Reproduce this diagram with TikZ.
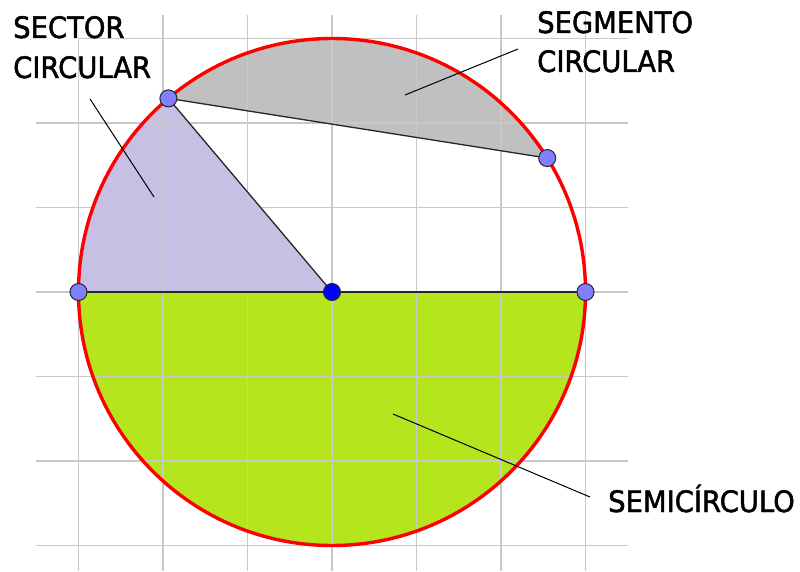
\documentclass[tikz,border=0pt]{standalone}
\usepackage{fontspec}
\newfontfamily\labfont[FakeStretch=0.93,FakeBold=1.6]{DejaVu Sans}
\definecolor{gridc}{RGB}{200,200,200}
\definecolor{sectc}{RGB}{199,191,228}
\definecolor{segc}{RGB}{192,192,192}
\definecolor{semic}{RGB}{181,230,29}
\definecolor{ptc}{RGB}{127,127,255}
\definecolor{ptline}{RGB}{40,40,40}
\tikzset{
  gridline/.style={draw=gridc, line width=1.5pt},
  rim/.style={draw=red, line width=3.4pt},
  edge/.style={draw=black!85, line width=1.3pt},
  leader/.style={draw=black, line width=1pt},
  anchorpt/.style={circle, minimum size=17pt, inner sep=0pt},
  pt/.style={circle, fill=ptc, draw=ptline, line width=1pt, minimum size=17pt, inner sep=0pt},
  ctr/.style={circle, fill=blue, draw=ptline, line width=1pt, minimum size=17pt, inner sep=0pt},
  lab/.style={font=\labfont\fontsize{29.5}{40}\selectfont, inner sep=0pt, align=left, text=black}
}
\begin{document}
\begin{tikzpicture}[x=1pt,y=1pt]
\useasboundingbox (0,0) rectangle (800,571);
\def\R{253.5}
\coordinate (O) at (332,279);
% fills
\fill[sectc] (O) -- ++(180:\R) arc[start angle=180, end angle=130.2, radius=\R] -- cycle;
\fill[segc] (O) ++(130.2:\R) arc[start angle=130.2, end angle=31.9, radius=\R] -- cycle;
\fill[semic] (O) ++(180:\R) arc[start angle=180, end angle=360, radius=\R] -- cycle;
% grid
\foreach \k in {-3,...,2} \draw[gridline] (36,{279+\k*84.5}) -- (628,{279+\k*84.5});
\draw[gridline] (78.5,532.5) -- (628,532.5);
\foreach \k in {-2,...,3} \draw[gridline] ({332+\k*84.5},0) -- ({332+\k*84.5},556);
\draw[gridline] (78.5,0) -- (78.5,532.5);
% circle
\draw[rim] (O) circle[radius=\R];
% point positions
\node[anchorpt] (L) at ([shift={(180:\R)}]332,279) {};
\node[anchorpt] (Rt) at ([shift={(0:\R)}]332,279) {};
\node[anchorpt] (A) at ([shift={(130.2:\R)}]332,279) {};
\node[anchorpt] (B) at ([shift={(31.9:\R)}]332,279) {};
% lines
\draw[edge] (L.center) -- (Rt.center);
\draw[edge] (A.center) -- (B.center);
\draw[edge] (O) -- (A.center);
% points drawn
\node[pt] at (L) {};
\node[pt] at (Rt) {};
\node[pt] at (A) {};
\node[pt] at (B) {};
\node[ctr] (Oc) at (O) {};
% labels
\node[lab, anchor=base west] (sec) at (13,533) {SECTOR};
\node[lab, anchor=base west] (sec2) at (13,493) {CIRCULAR};
\node[lab, anchor=base west] (seg) at (537,538) {SEGMENTO};
\node[lab, anchor=base west] (seg2) at (537,499) {CIRCULAR};
\node[lab, anchor=base west] (semi) at (608,59) {SEMICÍRCULO};
% leaders
\coordinate (s1) at (90,472); \coordinate (s2) at (154,374);
\coordinate (g1) at (518,522); \coordinate (g2) at (405,476);
\coordinate (m1) at (590,74); \coordinate (m2) at (393,157);
\draw[leader] (s1) -- (s2);
\draw[leader] (g1) -- (g2);
\draw[leader] (m1) -- (m2);
\end{tikzpicture}
\end{document}
